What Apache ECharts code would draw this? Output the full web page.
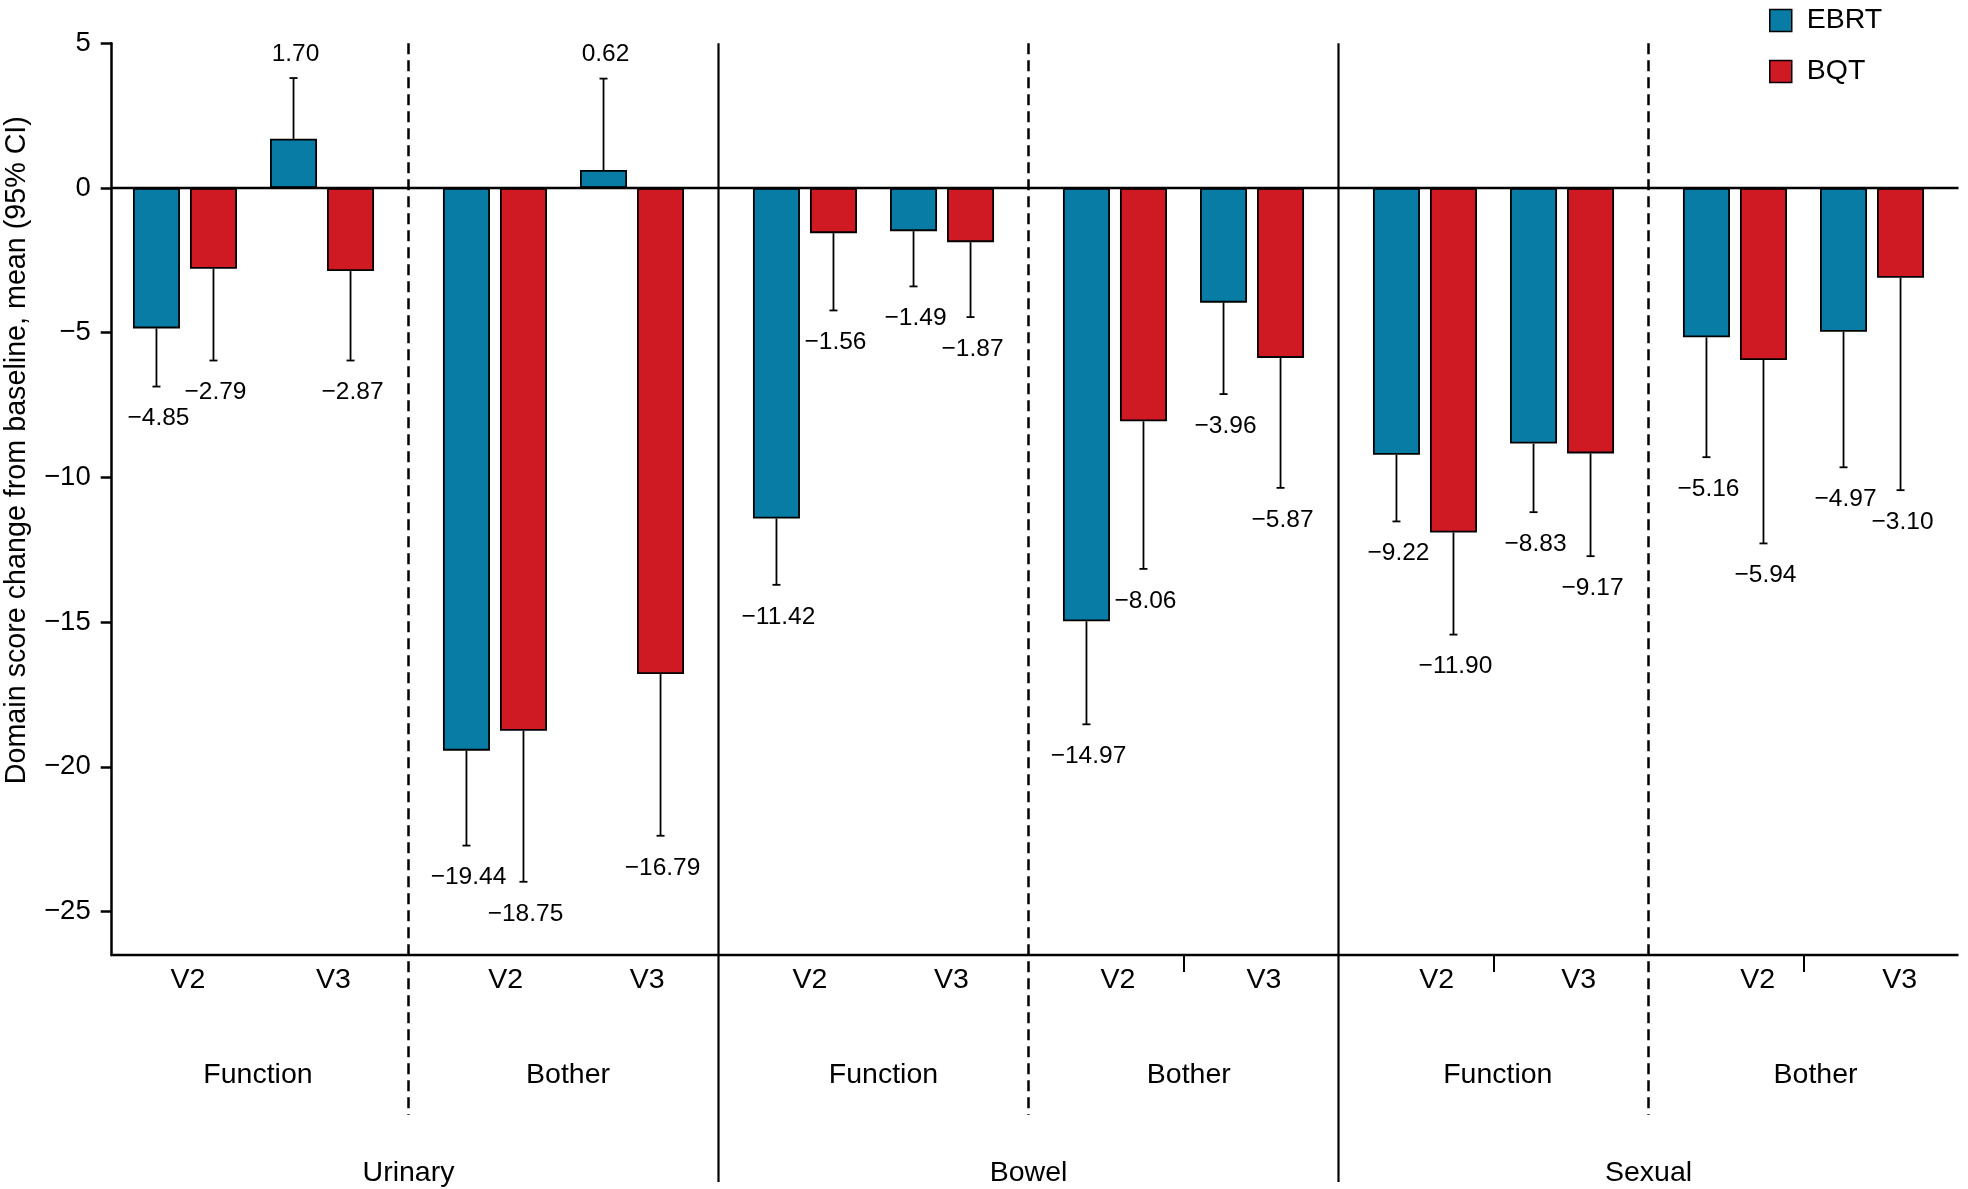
<!DOCTYPE html>
<html>
<head>
<meta charset="utf-8">
<script src="https://cdn.jsdelivr.net/npm/echarts@6/dist/echarts.min.js"></script>
<style>
html,body{margin:0;padding:0;background:#fff;}
#chart{width:1968px;height:1189px;}
</style>
</head>
<body>
<div id="chart"></div>
<script>
// ---------------- data ----------------
const domains = ['Urinary', 'Bowel', 'Sexual'];
const subdomains = ['Function', 'Bother', 'Function', 'Bother', 'Function', 'Bother'];
const groups = ['Urinary Function', 'Urinary Bother', 'Bowel Function', 'Bowel Bother', 'Sexual Function', 'Sexual Bother'];
const visits = ['V2', 'V3'];
const seriesNames = ['EBRT', 'BQT'];

const ebrtV2 = [-4.85, -19.44, -11.42, -14.97, -9.22, -5.16];
const bqtV2  = [-2.79, -18.75, -1.56, -8.06, -11.90, -5.94];
const ebrtV3 = [1.70, 0.62, -1.49, -3.96, -8.83, -4.97];
const bqtV3  = [-2.87, -16.79, -1.87, -5.87, -9.17, -3.10];

// far end of the 95% CI whisker
const ebrtV2Ci = [-6.86, -22.72, -13.71, -18.53, -11.52, -9.30];
const bqtV2Ci  = [-5.96, -23.97, -4.23, -13.16, -15.43, -12.28];
const ebrtV3Ci = [3.80, 3.78, -3.40, -7.12, -11.20, -9.65];
const bqtV3Ci  = [-5.96, -22.38, -4.46, -10.36, -12.72, -10.44];

const yTicks = [5, 0, -5, -10, -15, -20, -25];
const midTickGroups = [3, 4, 5];

// ---------------- style / layout ----------------
const BLUE = '#087ca4';
const RED = '#cf1a23';
const FONT = '"Liberation Sans", Arial, Helvetica, sans-serif';
const FS = 28.5;
const GRID_LEFT = 98.5, GRID_RIGHT = 9.5, GRID_TOP = 43.3, GRID_BOTTOM = 234;
const Y_SHIFT = 13.2;
const BAR_W = 47, SPACER_W = 19, GAP = 0.213;
const Y_MIN = -26.5, Y_MAX = 5;
// horizontal placement of the V2 / V3 / subdomain labels relative to each group centre (px)
const LBL_V2 = [-65.5, -57.8, -63.5, -65.5, -56.8, -45.8];
const LBL_V3 = [80, 83.8, 78, 80.5, 85.2, 96.2];
const LBL_SUB = [4.5, 4.5, 10, 5.3, 4.3, 12];
const VW = 60;

// column layout as ECharts computes it (slot 2 is an empty spacer column)
const colWidths = [BAR_W, BAR_W, SPACER_W, BAR_W, BAR_W];
let sumW = 0;
colWidths.forEach(w => { sumW += w * (1 + GAP); });
sumW -= colWidths[colWidths.length - 1] * GAP;
let offAcc = -sumW / 2;
const slotCenters = colWidths.map(w => { const c = offAcc + w / 2; offAcc += w * (1 + GAP); return c; });

const fmt = v => (v < 0 ? '\u2212' : '') + Math.abs(v).toFixed(2);

const barDefs = [
  { name: 'EBRT', slot: 0, values: ebrtV2, ci: ebrtV2Ci, color: BLUE },
  { name: 'BQT',  slot: 1, values: bqtV2,  ci: bqtV2Ci,  color: RED },
  { name: 'EBRT', slot: 3, values: ebrtV3, ci: ebrtV3Ci, color: BLUE },
  { name: 'BQT',  slot: 4, values: bqtV3,  ci: bqtV3Ci,  color: RED }
];

const barSeries = [];
barDefs.forEach((d, i) => {
  if (i === 2) {
    barSeries.push({ type: 'bar', name: 'spacer', data: [], barWidth: SPACER_W, barGap: (GAP * 100) + '%', silent: true });
  }
  barSeries.push({
    type: 'bar', name: d.name, data: d.values, barWidth: BAR_W, barGap: (GAP * 100) + '%',
    itemStyle: { color: d.color, borderColor: '#000', borderWidth: 1.8 },
    emphasis: { disabled: true }, z: 2
  });
});

const errData = [];
barDefs.forEach(d => {
  d.values.forEach((v, g) => errData.push([g, d.slot, v, d.ci[g]]));
});

const errSeries = {
  type: 'custom', name: 'ci', data: errData, encode: { x: 0, y: 2 }, z: 5, silent: true,
  renderItem: function (params, api) {
    const g = api.value(0), slot = api.value(1), mean = api.value(2), ci = api.value(3);
    const cx = api.coord([g, 0])[0] + slotCenters[slot];
    const y0 = api.coord([g, mean])[1];
    const y1 = api.coord([g, ci])[1];
    const up = ci > mean;
    const ly = up ? y1 - 24 : y1 + 32;
    return {
      type: 'group', children: [
        { type: 'line', shape: { x1: cx, y1: y0, x2: cx, y2: y1 }, style: { stroke: '#000', lineWidth: 1.8 } },
        { type: 'line', shape: { x1: cx - 4, y1: y1, x2: cx + 4, y2: y1 }, style: { stroke: '#000', lineWidth: 1.8 } },
        { type: 'text', x: cx + 2, y: ly, style: { text: fmt(mean), fill: '#000', fontSize: 24.5, fontFamily: FONT, align: 'center', verticalAlign: 'middle' } }
      ]
    };
  }
};

// rich styles for the two-line group labels (V2 ... V3 / subdomain)
const rich = {
  v: { fontSize: FS, fontFamily: FONT, width: VW, align: 'center', lineHeight: 40, color: '#000' },
  s: { fontSize: FS, fontFamily: FONT, align: 'center', lineHeight: 150, color: '#000' }
};
groups.forEach((g, i) => {
  const o2 = LBL_V2[i], o3 = LBL_V3[i];
  const shift = o2 + o3; // left pad (>0) or right pad (<0) keeps the line symmetric about the group centre
  rich['l' + i] = { width: Math.max(shift, 0.01), align: 'center', lineHeight: 40, fontSize: FS };
  rich['r' + i] = { width: Math.max(-shift, 0.01), align: 'center', lineHeight: 40, fontSize: FS };
  rich['g' + i] = { width: o3 - o2 - VW, align: 'center', lineHeight: 40, fontSize: FS };
  rich['p' + i] = { width: 2 * LBL_SUB[i], align: 'center', lineHeight: 150, fontSize: FS };
});

const option = {
  animation: false,
  backgroundColor: '#fff',
  textStyle: { fontFamily: FONT, color: '#000' },
  grid: { left: GRID_LEFT, right: GRID_RIGHT, top: GRID_TOP, bottom: GRID_BOTTOM, outerBoundsMode: 'none', containLabel: false },
  legend: {
    data: seriesNames, orient: 'vertical', left: 1769, top: 6, padding: 0,
    itemWidth: 22, itemHeight: 22, itemGap: 22, icon: 'rect',
    itemStyle: { borderColor: '#000', borderWidth: 1.5 },
    textStyle: { fontSize: FS, color: '#000', fontFamily: FONT, padding: [0, 0, 0, 10] }
  },
  xAxis: [
    {
      type: 'category', data: groups, position: 'bottom',
      axisLine: { show: false, onZero: false },
      axisTick: { show: true, alignWithLabel: true, length: 17, interval: (i) => midTickGroups.indexOf(i) >= 0, lineStyle: { color: '#000', width: 2 } },
      splitLine: { show: false },
      axisLabel: {
        interval: 0, margin: 5, color: '#000',
        formatter: (val, i) => '{l' + i + '| }{v|' + visits[0] + '}{g' + i + '| }{v|' + visits[1] + '}{r' + i + '| }\n{p' + i + '| }{s|' + subdomains[i] + '}',
        rich: rich
      }
    },
    {
      type: 'category', data: domains, position: 'bottom',
      axisLine: { show: false, onZero: false }, axisTick: { show: false }, splitLine: { show: false },
      axisLabel: { interval: 0, margin: 203, fontSize: FS, lineHeight: 30, color: '#000', fontFamily: FONT }
    }
  ],
  yAxis: {
    type: 'value', min: Y_MIN, max: Y_MAX, offset: -Y_SHIFT,
    axisLine: { show: true, lineStyle: { color: '#000', width: 2.5 } },
    axisTick: { show: true, length: 11, customValues: yTicks, lineStyle: { color: '#000', width: 2.5 } },
    axisLabel: { customValues: yTicks, margin: 21, fontSize: 27.5, color: '#000', fontFamily: FONT,
      formatter: v => (v < 0 ? '\u2212' + Math.abs(v) : String(v)) },
    splitLine: { show: false },
    name: 'Domain score change from baseline, mean (95% CI)',
    nameLocation: 'middle', nameGap: 80, nameRotate: 90,
    nameTextStyle: { fontSize: 28.7, color: '#000', fontFamily: FONT, padding: [0, 0, 0, 98] }
  },
  series: barSeries.concat([errSeries])
};

const chart = echarts.init(document.getElementById('chart'), null, { renderer: 'canvas' });
chart.setOption(option);

// separators and axis lines, positioned through the axes' own scales
const cx = g => chart.convertToPixel({ xAxisIndex: 0 }, g);
const cy = v => chart.convertToPixel({ yAxisIndex: 0 }, v);
const band = cx(1) - cx(0);
const xLeftAxis = cx(0) - band / 2 + Y_SHIFT;
const xRight = cx(groups.length - 1) + band / 2;
const yTop = cy(Y_MAX), yBot = cy(Y_MIN), yZero = cy(0);
const gfx = [];
for (let k = 1; k < groups.length; k++) {
  const xb = (cx(k - 1) + cx(k)) / 2;
  const isDomain = (k % 2 === 0);
  gfx.push({
    type: 'line', z: 10, silent: true,
    shape: { x1: xb, y1: yTop, x2: xb, y2: isDomain ? yBot + 227 : yBot + 160 },
    style: isDomain ? { stroke: '#000', lineWidth: 2.2 } : { stroke: '#000', lineWidth: 2.5, lineDash: [11, 6] }
  });
}
gfx.push({ type: 'line', z: 10, silent: true, shape: { x1: xLeftAxis, y1: yZero, x2: xRight, y2: yZero }, style: { stroke: '#000', lineWidth: 2.6 } });
gfx.push({ type: 'line', z: 10, silent: true, shape: { x1: xLeftAxis - 1, y1: yBot, x2: xRight, y2: yBot }, style: { stroke: '#000', lineWidth: 2.7 } });
chart.setOption({ graphic: gfx });
</script>
</body>
</html>
